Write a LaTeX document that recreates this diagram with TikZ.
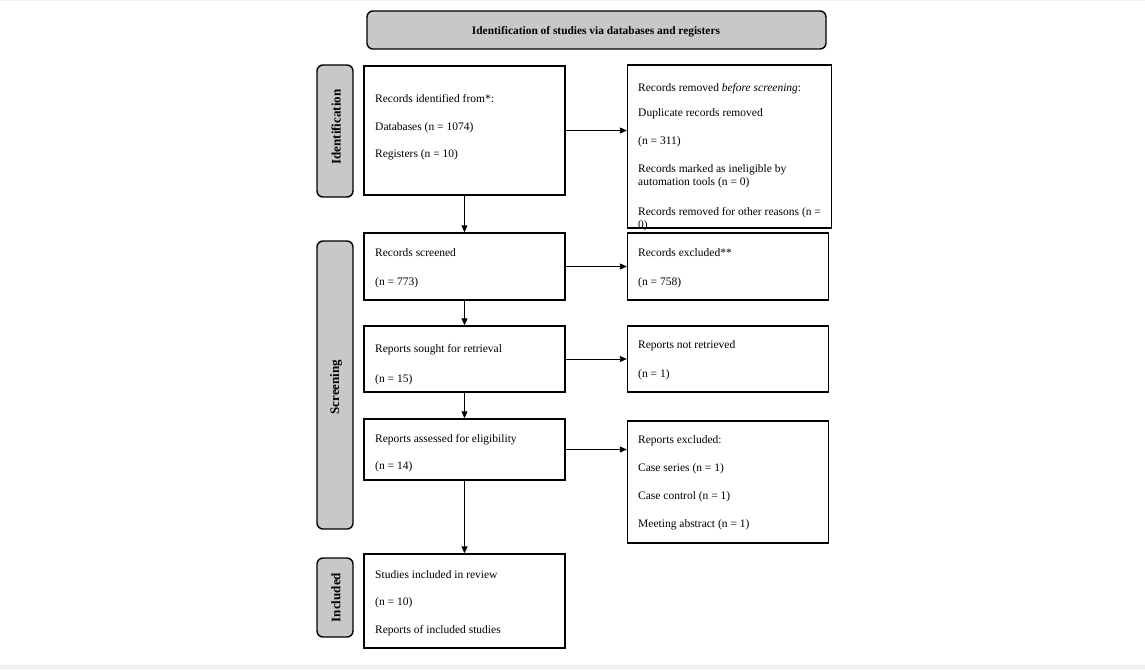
\documentclass[tikz,border=0pt]{standalone}
\usepackage{fontspec}
\setmainfont{Liberation Serif}
\usetikzlibrary{arrows.meta}
\definecolor{panelgray}{RGB}{200,200,200}
\definecolor{edgegray}{RGB}{240,240,240}
\tikzset{
  boxnode/.style={draw=black, line width=1.4pt, fill=none, inner sep=0pt},
  panel/.style={draw=black, line width=1.4pt, fill=panelgray, rounded corners=6pt, inner sep=0pt},
  txt/.style={anchor=west, inner sep=0pt, font=\fontsize{11.5}{13}\selectfont},
  lbl/.style={inner sep=0pt, font=\fontsize{13}{15}\selectfont\bfseries},
  headlbl/.style={inner sep=0pt, font=\fontsize{11.4}{13}\selectfont\bfseries},
  conn/.style={line width=0.9pt, -{Triangle[length=7pt,width=6pt]}}
}
\begin{document}
\begin{tikzpicture}[x=1pt,y=-1pt]
\useasboundingbox (0,0) rectangle (1145,669);
\fill[white] (0,0) rectangle (1145,669);
\fill[edgegray] (0,665) rectangle (1145,669);
\fill[edgegray] (0,0) rectangle (1145,1.2);

% header
\node[panel, minimum width=459pt, minimum height=38pt] (head) at (596.5,30) {};
\node[headlbl] (headt) at (596,32) {Identification of studies via databases and registers};

% side panels
\node[panel, minimum width=36pt, minimum height=132pt] (sid) at (335,131) {};
\node[lbl, rotate=90] (sidt) at (336,127) {Identification};
\node[panel, minimum width=36pt, minimum height=288pt] (sscr) at (335,385) {};
\node[lbl, rotate=90] (sscrt) at (336,387) {Screening};
\node[panel, minimum width=36pt, minimum height=79pt] (sinc) at (335,597.5) {};
\node[lbl, rotate=90] (sinct) at (336,597.5) {Included};

% texts
\node[txt] (t1a) at (375,99) {Records identified from*:};
\node[txt] (t1b) at (375,128) {Databases (n = 1074)};
\node[txt] (t1c) at (375,155) {Registers (n = 10)};

\node[txt] (t2a) at (638,89) {Records removed \textit{before screening}:};
\node[txt] (t2b) at (638,114) {Duplicate records removed};
\node[txt] (t2c) at (638,142) {(n = 311)};
\node[txt] (t2d) at (638,170) {Records marked as ineligible by};
\node[txt] (t2e) at (638,183) {automation tools (n = 0)};
\node[txt] (t2f) at (638,213) {Records removed for other reasons (n =};
\node[txt] (t2g) at (638,226) {0)};

\node[txt] (t3a) at (375,253) {Records screened};
\node[txt] (t3b) at (375,283) {(n = 773)};
\node[txt] (t4a) at (638,253) {Records excluded**};
\node[txt] (t4b) at (638,283) {(n = 758)};

\node[txt] (t5a) at (375,350) {Reports sought for retrieval};
\node[txt] (t5b) at (375,380) {(n = 15)};
\node[txt] (t6a) at (638,346) {Reports not retrieved};
\node[txt] (t6b) at (638,375) {(n = 1)};

\node[txt] (t7a) at (375,440) {Reports assessed for eligibility};
\node[txt] (t7b) at (375,467) {(n = 14)};
\node[txt] (t8a) at (638,441) {Reports excluded:};
\node[txt] (t8b) at (638,469) {Case series (n = 1)};
\node[txt] (t8c) at (638,497) {Case control (n = 1)};
\node[txt] (t8d) at (638,525) {Meeting abstract (n = 1)};

\node[txt] (t9a) at (375,575) {Studies included in review};
\node[txt] (t9b) at (375,603) {(n = 10)};
\node[txt] (t9c) at (375,631) {Reports of included studies};

% boxes
\node[boxnode, minimum width=201pt, minimum height=129pt] (b1) at (464.5,130.5) {};
\node[boxnode, minimum width=204pt, minimum height=163pt] (b2) at (729.5,146.5) {};
\node[boxnode, minimum width=201pt, minimum height=67pt] (b3) at (464.5,266.5) {};
\node[boxnode, minimum width=201pt, minimum height=67pt] (b4) at (728,266.5) {};
\node[boxnode, minimum width=201pt, minimum height=66pt] (b5) at (464.5,359) {};
\node[boxnode, minimum width=201pt, minimum height=66pt] (b6) at (728,359) {};
\node[boxnode, minimum width=201pt, minimum height=61pt] (b7) at (464.5,449.5) {};
\node[boxnode, minimum width=201pt, minimum height=122pt] (b8) at (728,482) {};
\node[boxnode, minimum width=201pt, minimum height=94pt] (b9) at (464.5,601) {};

% connectors
\draw[conn] (b1.south) -- (b3.north);
\draw[conn] (b3.south) -- (b5.north);
\draw[conn] (b5.south) -- (b7.north);
\draw[conn] (b7.south) -- (b9.north);
\draw[conn] (b1.east) -- (b1.east -| b2.west);
\draw[conn] (b3.east) -- (b4.west);
\draw[conn] (b5.east) -- (b6.west);
\draw[conn] (b7.east) -- (b7.east -| b8.west);
\end{tikzpicture}
\end{document}
